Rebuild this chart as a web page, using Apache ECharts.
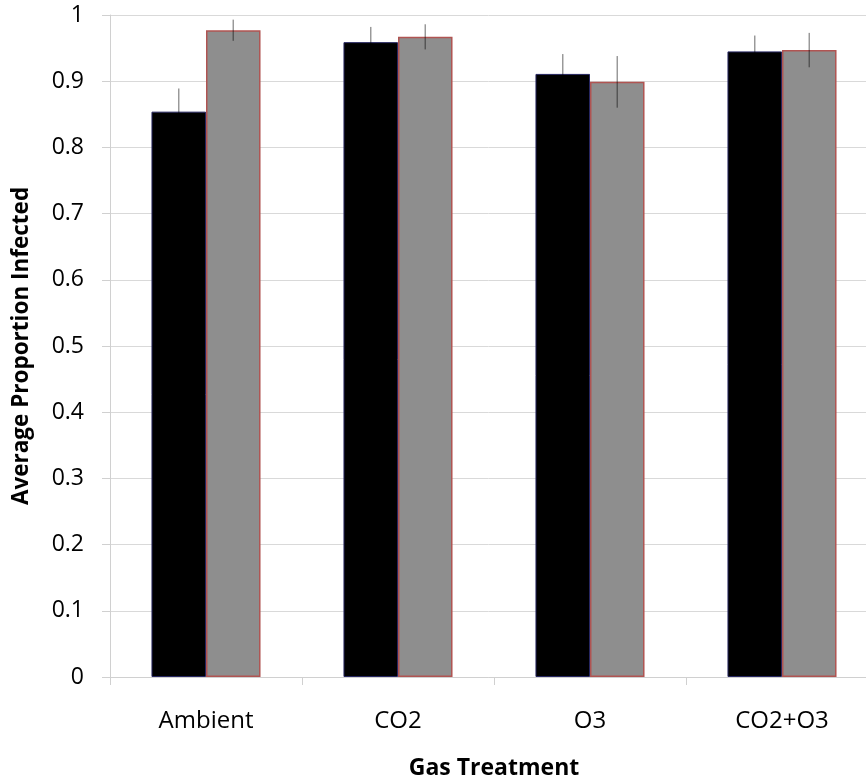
<!DOCTYPE html>
<html>
<head>
<meta charset="utf-8">
<script src="https://cdn.jsdelivr.net/npm/echarts@6/dist/echarts.min.js"></script>
<style>
  html, body { margin: 0; padding: 0; background: #fff; }
  #main { width: 866px; height: 780px; }
</style>
</head>
<body>
<div id="main"></div>
<script>
// 数据
var categories = ['Ambient', 'CO2', 'O3', 'CO2+O3'];
var blackVals = [0.854, 0.959, 0.911, 0.945];
var blackErr = [0.035, 0.023, 0.030, 0.024];
var grayVals = [0.977, 0.967, 0.899, 0.947];
var grayErr = [0.016, 0.019, 0.039, 0.026];

var FONT = 'Open Sans';

// 误差线数据 [类别, 值, 误差]
function errData(vals, errs) {
    var out = [];
    for (var i = 0; i < vals.length; i++) {
        out.push([i, vals[i], errs[i]]);
    }
    return out;
}

// side: -1 左边的柱子, 1 右边的柱子
function errRender(side) {
    return function (params, api) {
        var i = api.value(0);
        var v = api.value(1);
        var e = api.value(2);
        var top = api.coord([i, v + e]);
        var bot = api.coord([i, v - e]);
        var w = api.size([1, 0])[0];
        var x = top[0] + side * w * 0.142;
        return {
            type: 'line',
            shape: { x1: x, y1: top[1], x2: x, y2: bot[1] },
            style: { stroke: 'rgba(0,0,0,0.4)', lineWidth: 1.5 }
        };
    };
}

var myChart = echarts.init(document.getElementById('main'));
var option = {
    backgroundColor: '#fff',
    animation: false,
    grid: {
        left: 110,
        top: 15,
        width: 768,
        height: 662,
        outerBoundsMode: 'none'
    },
    xAxis: {
        type: 'category',
        data: categories,
        name: 'Gas Treatment',
        nameLocation: 'middle',
        nameGap: 80,
        nameTextStyle: { fontFamily: FONT, fontWeight: 'bold', fontSize: 23, color: '#000', verticalAlign: 'top' },
        axisLine: { lineStyle: { color: '#d0d0d0', width: 1 } },
        axisTick: { show: true, length: 8, lineStyle: { color: '#d0d0d0' } },
        axisLabel: { fontFamily: FONT, fontSize: 24, color: '#000', margin: 32 }
    },
    yAxis: {
        type: 'value',
        min: 0,
        max: 1,
        interval: 0.1,
        name: 'Average Proportion Infected',
        nameLocation: 'middle',
        nameGap: 77,
        nameRotate: 90,
        nameTextStyle: { fontFamily: FONT, fontWeight: 'bold', fontSize: 22.5, color: '#000' },
        axisLine: { show: true, lineStyle: { color: '#d0d0d0', width: 1 } },
        axisTick: { show: true, length: 8, lineStyle: { color: '#d0d0d0' } },
        splitLine: { lineStyle: { color: '#d9d9d9', width: 1 } },
        axisLabel: { fontFamily: FONT, fontSize: 23, color: '#000', margin: 26 }
    },
    series: [
        {
            name: 'Series 1',
            type: 'bar',
            data: blackVals,
            barWidth: '28.4%',
            barGap: '0%',
            z: 2,
            itemStyle: { color: '#000', borderColor: '#262660', borderWidth: 1 }
        },
        {
            name: 'Series 2',
            type: 'bar',
            data: grayVals,
            barWidth: '28.4%',
            barGap: '0%',
            z: 2,
            itemStyle: { color: '#8e8e8e', borderColor: '#b05452', borderWidth: 1.5 }
        },
        {
            name: 'Series 1 err',
            type: 'custom',
            data: errData(blackVals, blackErr),
            encode: { x: 0, y: 1 },
            renderItem: errRender(-1),
            z: 3
        },
        {
            name: 'Series 2 err',
            type: 'custom',
            data: errData(grayVals, grayErr),
            encode: { x: 0, y: 1 },
            renderItem: errRender(1),
            z: 3
        }
    ]
};
myChart.setOption(option);
</script>
</body>
</html>
